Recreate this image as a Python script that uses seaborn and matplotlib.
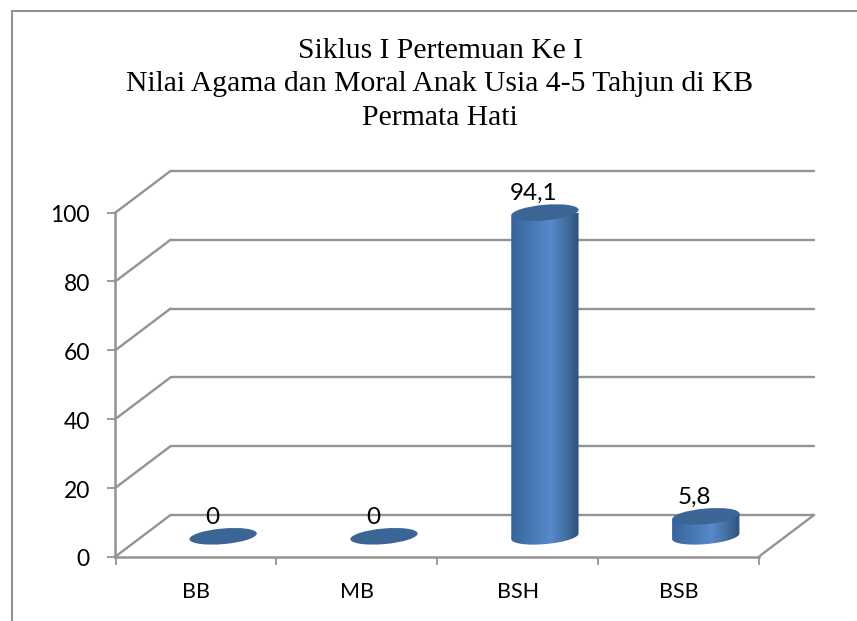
import numpy as np
import pandas as pd
import seaborn as sns
import matplotlib
matplotlib.use('Agg')
import matplotlib.pyplot as plt
import matplotlib.transforms as mtrans
from matplotlib.colors import LinearSegmentedColormap
from matplotlib.lines import Line2D
from matplotlib.patches import Ellipse, Polygon

title_lines = ['Siklus I Pertemuan Ke I',
               'Nilai Agama dan Moral Anak Usia 4-5 Tahjun di KB',
               'Permata Hati']
categories = ['BB', 'MB', 'BSH', 'BSB']
values = [0, 0, 94.1, 5.8]
value_labels = ['0', '0', '94,1', '5,8']
y_ticks = [0, 20, 40, 60, 80, 100]

W, H = 857, 621
GREY = '#939393'
TOP = '#3b6595'

sns.set_theme(style='white')
plt.rcParams['font.family'] = ['Lato', 'DejaVu Sans']

fig = plt.figure(figsize=(W / 100, H / 100), dpi=100)
ax = fig.add_axes([115.5 / W, (H - 556.5) / H, 643.5 / W, 344 / H])

df = pd.DataFrame({'kategori': categories, 'nilai': values})
sns.barplot(data=df, x='kategori', y='nilai', width=0.42, color='#4a7ab8', ax=ax)
ax.set_xlim(-0.5, 3.5)
ax.set_ylim(0, 100)
ax.set_xlabel('')
ax.set_ylabel('')

# kedalaman 3D dalam piksel
depth = mtrans.Affine2D().translate(55, 41.5)
mid = (27.2, 20.2)
back = ax.transData + depth
identity = mtrans.IdentityTransform()

for v in y_ticks:
    ax.plot([-0.5, 3.5], [v, v], transform=back, color=GREY, lw=1.7, clip_on=False, zorder=1)
    x0, y0 = ax.transData.transform((-0.5, v))
    ax.plot([x0, x0 + 55], [y0, y0 + 41.5], transform=identity, color=GREY, lw=1.7,
            clip_on=False, zorder=1)
x0, y0 = ax.transData.transform((3.5, 0))
ax.plot([x0, x0 + 55], [y0, y0 + 41.5], transform=identity, color=GREY, lw=1.7,
        clip_on=False, zorder=1)

cmap = LinearSegmentedColormap.from_list('silinder', [
    (0.0, '#35629b'), (0.25, '#4474ae'), (0.58, '#5789cc'),
    (0.8, '#41709f'), (1.0, '#2c4f78')])
grad = np.linspace(0, 1, 256).reshape(1, -1)
tilt = np.deg2rad(5)
height = 15.6

for bar, label in zip(ax.patches, value_labels):
    bar.set_facecolor('none')
    bar.set_edgecolor('none')
    cx = bar.get_x() + bar.get_width() / 2
    val = bar.get_height()
    bx, by = ax.transData.transform((cx, 0))
    tx, ty = ax.transData.transform((cx, val))
    bx, by = bx + mid[0], by + mid[1]
    tx, ty = tx + mid[0], ty + mid[1]
    w_px = ax.transData.transform((bar.get_width(), 0))[0] - ax.transData.transform((0, 0))[0]

    if val > 0:
        # badan silinder: sisi bawah melengkung, warna gradasi
        t = np.linspace(np.pi, 2 * np.pi, 60)
        ex = w_px / 2 * np.cos(t)
        ey = height / 2 * np.sin(t)
        px = bx + ex * np.cos(tilt) - ey * np.sin(tilt)
        py = by + ex * np.sin(tilt) + ey * np.cos(tilt)
        pts = np.column_stack([px, py])
        pts = np.vstack([pts, [tx + w_px / 2 * np.cos(tilt), ty + w_px / 2 * np.sin(tilt)],
                         [tx - w_px / 2 * np.cos(tilt), ty - w_px / 2 * np.sin(tilt)]])
        im = ax.imshow(grad, cmap=cmap, aspect='auto', zorder=3, transform=identity,
                       extent=(bx - w_px / 2 - 1, bx + w_px / 2 + 1, by - height, ty + height))
        clip = Polygon(pts, closed=True, transform=identity)
        im.set_clip_path(clip)

    ax.add_patch(Ellipse((tx, ty), w_px, height, angle=5, transform=identity,
                         facecolor=TOP, edgecolor='none', zorder=4, clip_on=False))
    ax.text(tx - 11, ty + 19, label, transform=identity, ha='center', va='center',
            fontsize=17.5, color='black', zorder=6)

ax.set_xlim(-0.5, 3.5)
ax.set_ylim(0, 100)

ax.set_yticks(y_ticks)
ax.set_xticks([-0.5, 0.5, 1.5, 2.5, 3.5], minor=False)
ax.set_xticklabels([])
ax.tick_params(axis='both', length=6, width=1.3, color=GREY, left=True, bottom=True)
ax.tick_params(axis='y', labelsize=16.5, pad=12.5, labelcolor='black')
shift = mtrans.ScaledTranslation(0, -1.5 / 100, fig.dpi_scale_trans)
for lab in ax.get_yticklabels():
    lab.set_transform(lab.get_transform() + shift)
for i, c in enumerate(categories):
    ax.annotate(c, (i, 0), xytext=(0, -35.5), textcoords='offset pixels', ha='center',
                va='center', fontsize=15.5, color='black', annotation_clip=False)
sns.despine(ax=ax)
for s in ['left', 'bottom']:
    ax.spines[s].set_color(GREY)
    ax.spines[s].set_linewidth(1.8)

for y_px, line in zip([58, 91, 125], title_lines):
    fig.text(440 / W, 1 - y_px / H, line, ha='center', va='baseline', fontsize=21.3,
             family=['Liberation Serif', 'DejaVu Serif'], color='black')

# bingkai: hanya sisi kiri dan atas yang terlihat
fig.add_artist(Line2D([11.5 / W, 11.5 / W], [0, 1 - 10.5 / H], color=GREY, lw=1.5))
fig.add_artist(Line2D([11.5 / W, 1], [1 - 10.5 / H, 1 - 10.5 / H], color=GREY, lw=1.5))

fig.savefig('out.png', dpi=100, facecolor='white')
